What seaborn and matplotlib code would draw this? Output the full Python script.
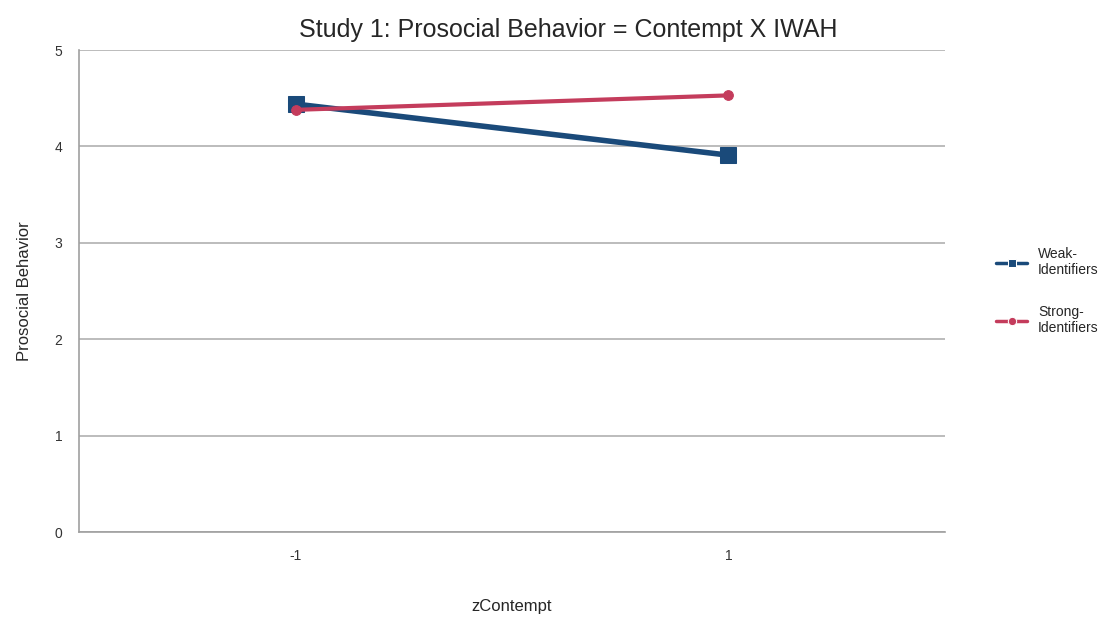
import pandas as pd
import seaborn as sb
import matplotlib.pyplot as plt

zContempt = ['-1', '1']
weak = [4.44, 3.91]
strong = [4.38, 4.53]
groups = ['Weak-\nIdentifiers', 'Strong-\nIdentifiers']

df = pd.DataFrame({
    'zContempt': zContempt * 2,
    'Prosocial Behavior': weak + strong,
    'group': [groups[0]] * 2 + [groups[1]] * 2,
})

sb.set_style('white')
plt.rcParams['font.family'] = ['Liberation Sans', 'DejaVu Sans']

fig = plt.figure(figsize=(11.15, 6.26), dpi=100)
ax = fig.add_axes([0.0709, 0.150, 0.7766, 0.770])

palette = {groups[0]: '#1a4a7a', groups[1]: '#c43c5c'}
sb.lineplot(data=df, x='zContempt', y='Prosocial Behavior', hue='group',
            style='group', palette=palette, markers={groups[0]: 's', groups[1]: 'o'},
            dashes=False, sort=False, ax=ax)

for line, lw, ms in zip(ax.lines[:2], [4, 3], [11, 7]):
    line.set_linewidth(lw)
    line.set_markersize(ms)
    line.set_markeredgecolor(line.get_color())

ax.set_xlim(-0.5, 1.5)
ax.set_ylim(0, 5)
ax.set_yticks(range(0, 6))
ax.yaxis.grid(True, color='#b0b0b0', linewidth=1.2)
ax.xaxis.grid(False)
ax.set_axisbelow(True)
for s in ['top', 'right']:
    ax.spines[s].set_visible(False)
for s in ['left', 'bottom']:
    ax.spines[s].set_color('#a0a0a0')
    ax.spines[s].set_linewidth(1.2)
ax.tick_params(axis='both', labelsize=10, colors='#333333', length=0, pad=12)

fig.suptitle('Study 1: Prosocial Behavior = Contempt X IWAH', fontsize=18,
             x=0.51, y=0.972)
ax.set_xlabel('zContempt', fontsize=12, labelpad=26)
ax.set_ylabel('Prosocial Behavior', fontsize=12, labelpad=16)

leg = ax.legend(loc='center left', bbox_to_anchor=(1.045, 0.5), frameon=False,
                fontsize=10, handlelength=2.2, labelspacing=2.0, title=None)
for h in leg.get_lines():
    h.set_linewidth(2.5)
    h.set_markersize(6)

fig.savefig('out.png', dpi=100)
